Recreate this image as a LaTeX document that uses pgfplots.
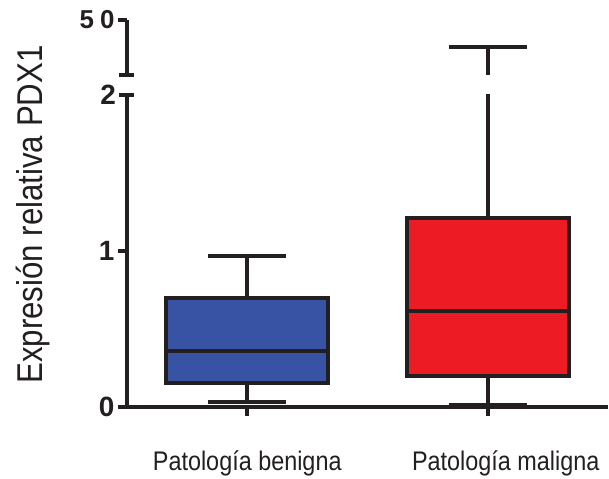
\documentclass[border=0pt]{standalone}
\usepackage{fontspec}
\setmainfont{Liberation Sans}
\newfontfamily\narrowsans[FakeStretch=0.87]{Liberation Sans}
\usepackage{pgfplots}
\pgfplotsset{compat=1.18}
\usepgfplotslibrary{statistics}
\definecolor{boxblue}{HTML}{3953A4}
\definecolor{boxred}{HTML}{ED1C24}
\definecolor{inkdark}{HTML}{231F20}
\begin{document}
\begin{tikzpicture}
\path[use as bounding box] (-127bp,-72bp) rectangle (482bp,407bp);
\pgfplotsset{
  brk/.style={scale only axis, width=481bp, xmin=0.5, xmax=2.5,
    axis line style={line width=4bp, color=inkdark},
    every tick/.style={line width=4bp, inkdark},
    major tick length=9bp, tick align=outside,
    /pgf/number format/assume math mode=true,
    yticklabel style={font=\bfseries\fontsize{28}{28}\selectfont, text=inkdark},
    boxplot/draw direction=y,
    clip=true},
  bx/.style={line width=4bp, draw=inkdark, solid, mark=none}
}
\begin{axis}[brk, height=312bp, ymin=0, ymax=2,
  axis x line*=bottom, axis y line*=left,
  ytick={0,1}, extra y ticks={2},
  extra y tick style={tick align=center, major tick length=15bp},
  xtick={1,2}, xticklabels={Patología benigna, \hspace{36bp}Patología maligna},
  xticklabel style={font=\narrowsans\fontsize{27}{27}\selectfont, text=inkdark, yshift=-31bp},
  ylabel={Expresión relativa PDX1},
  ylabel style={font=\narrowsans\fontsize{36}{36}\selectfont, text=inkdark, at={(axis description cs:-0.16,0.617)}, anchor=south, inner sep=0pt}]
\addplot[bx, fill=boxblue, boxplot prepared={median=0.36, upper quartile=0.70, lower quartile=0.154, upper whisker=0.97, lower whisker=0.03, draw position=1, box extend=0.675, whisker extend=0.325}] coordinates {};
\addplot[bx, fill=boxred, boxplot prepared={median=0.615, upper quartile=1.21, lower quartile=0.20, upper whisker=26.4, lower whisker=0.015, draw position=2, box extend=0.675, whisker extend=0.325}] coordinates {};
\end{axis}
\begin{axis}[brk, at={(0,332bp)}, anchor=south west, height=55bp, ymin=2, ymax=50,
  axis x line=none, axis y line*=left,
  ytick={50}, yticklabels={5\hspace{6bp}0},
  yticklabel style={font=\bfseries\fontsize{26}{26}\selectfont, text=inkdark},
  extra y ticks={2}, extra y tick labels={},
  extra y tick style={tick align=center, major tick length=15bp}]
\addplot[bx, fill=boxred, boxplot prepared={median=0.615, upper quartile=1.21, lower quartile=0.20, upper whisker=26.4, lower whisker=0.015, draw position=2, box extend=0, whisker extend=0.325}] coordinates {};
\end{axis}
\end{tikzpicture}
\end{document}
